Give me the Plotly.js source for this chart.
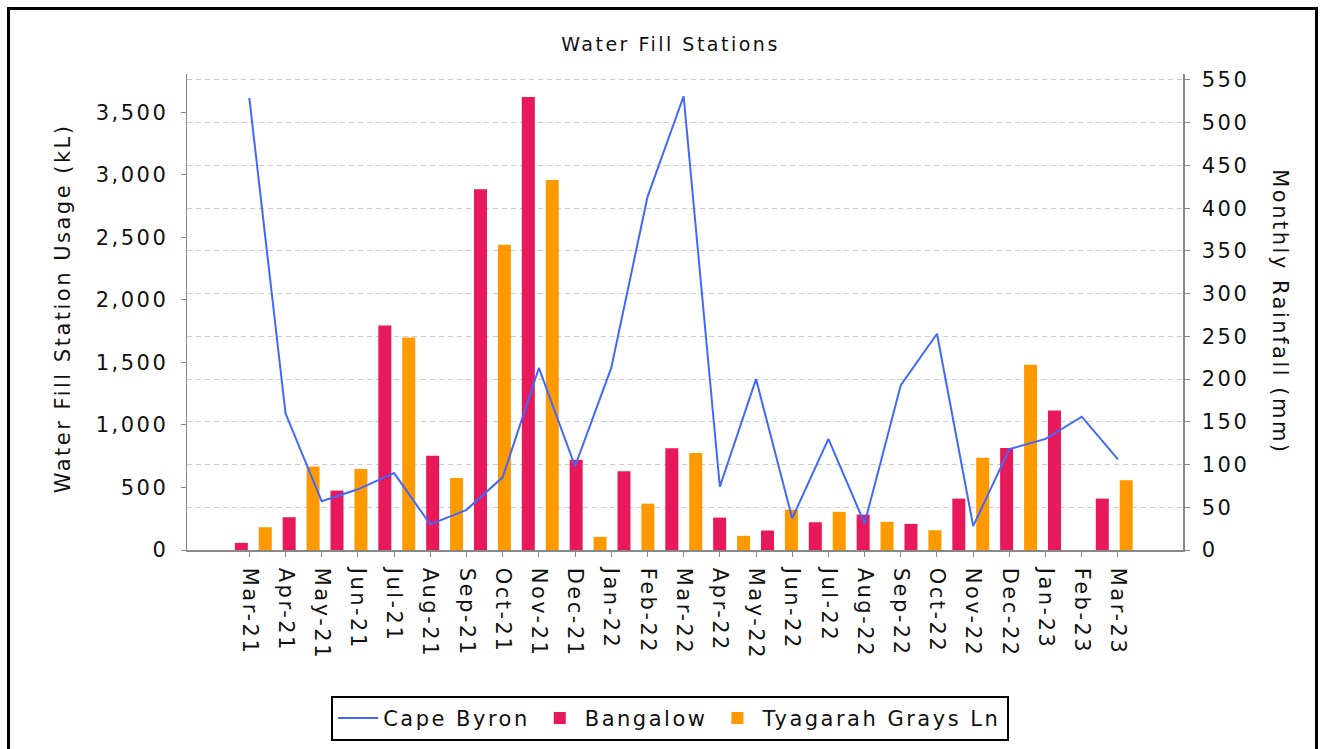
<!DOCTYPE html>
<html>
<head>
<meta charset="utf-8">
<script src="https://cdn.plot.ly/plotly-3.0.1.min.js"></script>
<style>
  html, body { margin: 0; padding: 0; background: #fff; }
  #wrap { position: relative; width: 1327px; height: 749px; overflow: hidden; }
  #chart { position: absolute; left: 0; top: 0; width: 1327px; height: 749px; }
  #frame { position: absolute; left: 7px; top: 7px; width: 1311px; height: 800px;
           border: 3px solid #000; box-sizing: border-box; pointer-events: none; }
  text { letter-spacing: 2.5px; }
</style>
</head>
<body>
<div id="wrap">
  <div id="chart"></div>
  <div id="frame"></div>
</div>
<script>
// Monthly rainfall (line) categories
const months = ['Mar-21','Apr-21','May-21','Jun-21','Jul-21','Aug-21','Sep-21','Oct-21','Nov-21','Dec-21',
                'Jan-22','Feb-22','Mar-22','Apr-22','May-22','Jun-22','Jul-22','Aug-22','Sep-22','Oct-22',
                'Nov-22','Dec-22','Jan-23','Feb-23','Mar-23'];
// Cape Byron monthly rainfall (mm)
const capeByron = [529, 160, 57, 71, 90, 30, 47, 85, 213, 98,
                   213, 413, 531, 74, 200, 37, 130, 31, 193, 253,
                   28, 118, 130, 156, 106];

// Bar groups (water fill station usage, kL)
const barGroups = ['1','2','3','4','5','6','7','8','9','10','11','12','13','14','15','16','17','18','19'];
const bangalow = [57, 262, 475, 1795, 754, 2884, 3623, 722, 629, 813, 259, 156, 222, 283, 209, 411, 816, 1116, 411];
const tyagarah = [182, 667, 648, 1699, 576, 2441, 2958, 105, 371, 776, 113, 323, 305, 225, 158, 738, 1481, null, 557];

const FONT = 'DejaVu Sans, Verdana, sans-serif';
const TXT = '#111';
const AX = '#888';

const traces = [
  { type: 'bar', name: 'Bangalow', x: barGroups, y: bangalow, xaxis: 'x', yaxis: 'y',
    marker: { color: '#E8195B' }, legendrank: 2, hoverinfo: 'y' },
  { type: 'bar', name: 'Tyagarah Grays Ln', x: barGroups, y: tyagarah, xaxis: 'x', yaxis: 'y',
    marker: { color: '#FF9900' }, legendrank: 3, hoverinfo: 'y' },
  { type: 'scatter', mode: 'lines', name: 'Cape Byron', x: months, y: capeByron, xaxis: 'x2', yaxis: 'y2',
    line: { color: '#4068FF', width: 2 }, legendrank: 1 }
];

const layout = {
  width: 1327, height: 749,
  margin: { l: 187, r: 144, t: 74, b: 199, pad: 0 },
  paper_bgcolor: '#fff', plot_bgcolor: '#fff',
  font: { family: FONT, color: TXT, size: 21 },
  title: { text: 'Water Fill Stations', font: { family: FONT, size: 19, color: TXT },
           xref: 'container', x: 0.5053, xanchor: 'center', yref: 'container', y: 0.9413, yanchor: 'middle' },
  barmode: 'group', bargap: 0, bargroupgap: 0.456,
  showlegend: true,
  legend: { orientation: 'h', xref: 'container', x: 0.505, xanchor: 'center',
            yref: 'container', y: 0.041, yanchor: 'middle', itemwidth: 40,
            bordercolor: '#000', borderwidth: 2, bgcolor: '#fff',
            font: { family: FONT, size: 21, color: TXT }, traceorder: 'normal' },
  xaxis: { type: 'category', categoryorder: 'array', categoryarray: barGroups,
           range: [-1.386, 19.437], showticklabels: false, ticks: '', showgrid: false,
           showline: false, zeroline: false, fixedrange: true },
  xaxis2: { type: 'category', overlaying: 'x', side: 'bottom', categoryorder: 'array', categoryarray: months,
            range: [-1.722, 25.797], tickangle: 90, ticks: 'outside', ticklen: 5, tickcolor: AX,
            showline: true, linecolor: AX, linewidth: 1.5, showgrid: false, zeroline: false,
            tickfont: { family: FONT, size: 21, color: TXT }, ticklabelstandoff: 7, fixedrange: true },
  yaxis: { range: [0, 3806], dtick: 500, tick0: 0, tickformat: ',', ticks: 'outside', ticklen: 5, tickcolor: AX,
           showline: true, linecolor: AX, linewidth: 1.5, showgrid: false, zeroline: false,
           tickfont: { family: FONT, size: 21, color: TXT }, ticklabelstandoff: 8, fixedrange: true },
  yaxis2: { overlaying: 'y', side: 'right', range: [0, 557], dtick: 50, tick0: 0,
            ticks: 'outside', ticklen: 5, tickcolor: AX, showline: true, linecolor: AX, linewidth: 1.5,
            showgrid: true, gridcolor: '#cccccc', griddash: '5px,4px', gridwidth: 1, zeroline: false,
            tickfont: { family: FONT, size: 21, color: TXT }, ticklabelstandoff: 8, fixedrange: true },
  annotations: [
    { text: 'Water Fill Station Usage (kL)', xref: 'paper', yref: 'paper', x: -0.125, y: 0.507,
      textangle: -90, showarrow: false, xanchor: 'center', yanchor: 'middle',
      font: { family: FONT, size: 21, color: TXT } },
    { text: 'Monthly Rainfall (mm)', xref: 'paper', yref: 'paper', x: 1.0974, y: 0.5016,
      textangle: 90, showarrow: false, xanchor: 'center', yanchor: 'middle',
      font: { family: FONT, size: 21, color: TXT } }
  ]
};

Plotly.newPlot('chart', traces, layout, { displayModeBar: false, staticPlot: true });
</script>
</body>
</html>
